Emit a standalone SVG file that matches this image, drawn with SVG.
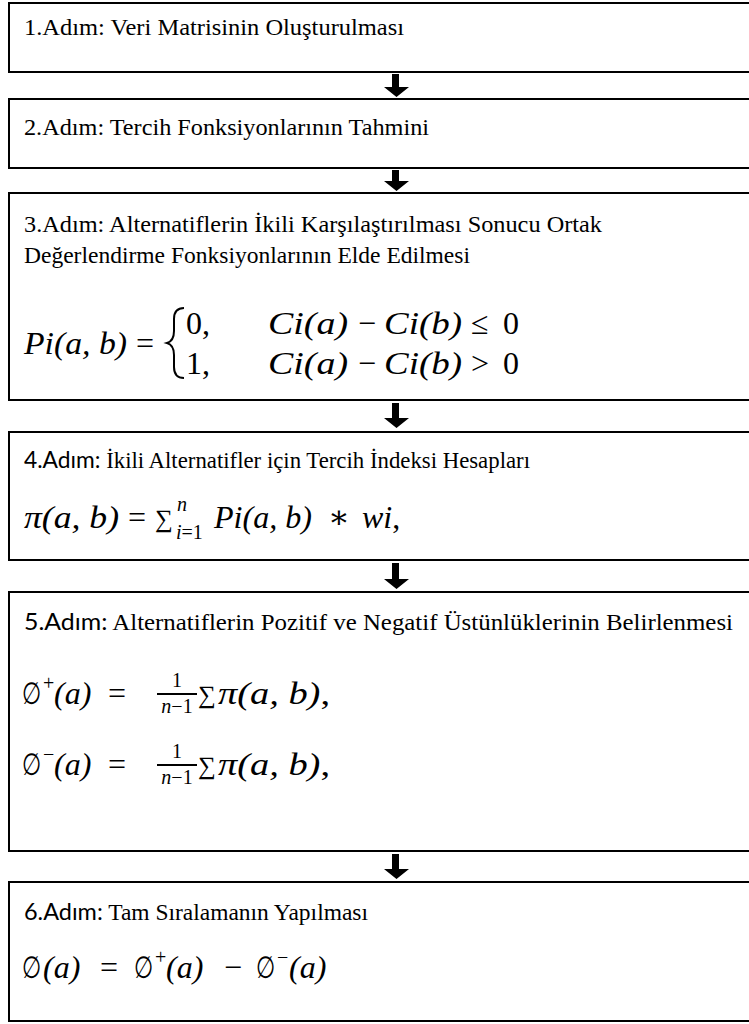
<svg xmlns="http://www.w3.org/2000/svg" width="749" height="1024" viewBox="0 0 749 1024">
<style>
.box{fill:#fff;stroke:#000;stroke-width:2}
.t{font-family:'Liberation Serif','Times New Roman',serif;font-size:24px;fill:#000}
.s{font-family:Lato,'Liberation Sans',sans-serif}
.m{font-family:'Liberation Serif','DejaVu Serif',serif;font-style:italic;font-size:32px;fill:#000}
.u{font-style:normal}
.sm{font-size:20px}
.sg{font-size:25px;font-style:normal}
.es{font-family:'DejaVu Sans',sans-serif;font-style:normal;font-size:28px}
.arrow{fill:#000}
</style>
<rect width="749" height="1024" fill="#fff"/>
<g id="connectors">
<path class="arrow" d="M392 74h7v13h10l-12.5 10l-12.5-10h8z"/>
<path class="arrow" d="M392 170h7v11h10l-12.5 10l-12.5-10h8z"/>
<path class="arrow" d="M392 403h7v15h10l-12.5 10l-12.5-10h8z"/>
<path class="arrow" d="M392 563h7v16h10l-12.5 10l-12.5-10h8z"/>
<path class="arrow" d="M392 854h7v15h10l-12.5 10l-12.5-10h8z"/>
</g>
<g id="step1">
<rect class="box" x="9" y="3" width="760" height="69"/>
<text class="t" x="24" y="35" textLength="380" lengthAdjust="spacingAndGlyphs">1.Adım: Veri Matrisinin Oluşturulması</text>
</g>
<g id="step2">
<rect class="box" x="9" y="99" width="760" height="69"/>
<text class="t" x="24" y="135" textLength="405" lengthAdjust="spacingAndGlyphs">2.Adım: Tercih Fonksiyonlarının Tahmini</text>
</g>
<g id="step3">
<rect class="box" x="9" y="193" width="760" height="207"/>
<text class="t" x="24" y="232" textLength="578" lengthAdjust="spacingAndGlyphs">3.Adım: Alternatiflerin İkili Karşılaştırılması Sonucu Ortak</text>
<text class="t" x="24" y="263" textLength="446" lengthAdjust="spacingAndGlyphs">Değerlendirme Fonksiyonlarının Elde Edilmesi</text>
<text class="m" x="24" y="354" textLength="103" lengthAdjust="spacingAndGlyphs">Pi(a, b)</text>
<text class="m u" x="136" y="354">=</text>
<path d="M184 308q-10 0-10 11v12q0 10-7 12q7 2 7 12v12q0 11 10 11" fill="none" stroke="#000" stroke-width="2"/>
<text class="m u" x="186" y="334">0,</text>
<text class="m u" x="186" y="374">1,</text>
<text class="m" x="268" y="334" textLength="80" lengthAdjust="spacingAndGlyphs">Ci(a)</text>
<text class="m u" x="358" y="334">−</text>
<text class="m" x="384" y="334" textLength="78" lengthAdjust="spacingAndGlyphs">Ci(b)</text>
<text class="m u" x="471" y="334">≤</text>
<text class="m u" x="503" y="334">0</text>
<text class="m" x="268" y="374" textLength="80" lengthAdjust="spacingAndGlyphs">Ci(a)</text>
<text class="m u" x="358" y="374">−</text>
<text class="m" x="384" y="374" textLength="78" lengthAdjust="spacingAndGlyphs">Ci(b)</text>
<text class="m u" x="471" y="374">&gt;</text>
<text class="m u" x="503" y="374">0</text>
</g>
<g id="step4">
<rect class="box" x="9" y="432" width="760" height="128"/>
<text class="t" x="24" y="468" textLength="506" lengthAdjust="spacingAndGlyphs"><tspan class="s">4.Adım:</tspan> İkili Alternatifler için Tercih İndeksi Hesapları</text>
<text class="m" x="24" y="528" textLength="95" lengthAdjust="spacingAndGlyphs">π(a, b)</text>
<text class="m u" x="128" y="528">=</text>
<text class="m sg" x="155" y="527">∑</text>
<text class="m sm" x="177" y="511">n</text>
<text class="m sm" x="176" y="539">i<tspan class="u">=1</tspan></text>
<text class="m" x="214" y="528" textLength="98" lengthAdjust="spacingAndGlyphs">Pi(a, b)</text>
<text class="m u" x="328" y="528">∗</text>
<text class="m" x="362" y="528">wi<tspan class="u">,</tspan></text>
</g>
<g id="step5">
<rect class="box" x="9" y="592" width="760" height="259"/>
<text class="t" x="24" y="630" textLength="709" lengthAdjust="spacingAndGlyphs"><tspan class="s">5.Adım:</tspan> Alternatiflerin Pozitif ve Negatif Üstünlüklerinin Belirlenmesi</text>
<text class="es" transform="translate(22 704) scale(0.78 1.1)">∅</text>
<text class="m u sm" x="43" y="690">+</text>
<text class="m" x="54" y="704">(a)</text>
<text class="m u" x="108" y="704">=</text>
<text class="m u sm" x="177" y="687" text-anchor="middle">1</text>
<line x1="157" y1="694" x2="197" y2="694" stroke="#000" stroke-width="1.8"/>
<text class="m sm" x="177" y="713" text-anchor="middle">n<tspan class="u">−1</tspan></text>
<text class="m sg" x="198" y="703">∑</text>
<text class="m" x="218" y="704" textLength="112" lengthAdjust="spacingAndGlyphs">π(a, b)<tspan class="u">,</tspan></text>
<text class="es" transform="translate(22 775) scale(0.78 1.1)">∅</text>
<text class="m u sm" x="43" y="761">−</text>
<text class="m" x="54" y="775">(a)</text>
<text class="m u" x="108" y="775">=</text>
<text class="m u sm" x="177" y="758" text-anchor="middle">1</text>
<line x1="157" y1="765" x2="197" y2="765" stroke="#000" stroke-width="1.8"/>
<text class="m sm" x="177" y="784" text-anchor="middle">n<tspan class="u">−1</tspan></text>
<text class="m sg" x="198" y="774">∑</text>
<text class="m" x="218" y="775" textLength="112" lengthAdjust="spacingAndGlyphs">π(a, b)<tspan class="u">,</tspan></text>
</g>
<g id="step6">
<rect class="box" x="9" y="882" width="760" height="139"/>
<text class="t" x="24" y="920" textLength="344" lengthAdjust="spacingAndGlyphs"><tspan class="s">6.Adım:</tspan> Tam Sıralamanın Yapılması</text>
<text class="es" transform="translate(22 978) scale(0.78 1.1)">∅</text>
<text class="m" x="43" y="978">(a)</text>
<text class="m u" x="100" y="978">=</text>
<text class="es" transform="translate(134 978) scale(0.78 1.1)">∅</text>
<text class="m u sm" x="155" y="964">+</text>
<text class="m" x="166" y="978">(a)</text>
<text class="m u" x="224" y="978">−</text>
<text class="es" transform="translate(256 978) scale(0.78 1.1)">∅</text>
<text class="m u sm" x="277" y="964">−</text>
<text class="m" x="289" y="978">(a)</text>
</g>
</svg>
